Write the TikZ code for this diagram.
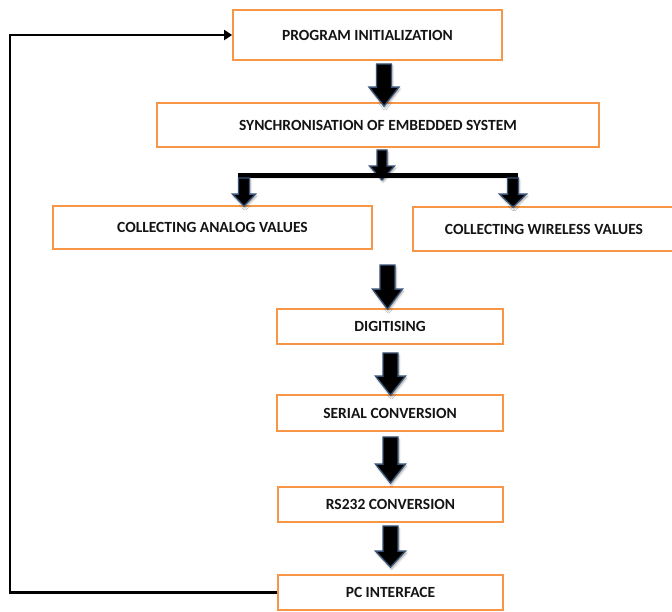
\documentclass[tikz,border=0pt]{standalone}
\usepackage{fontspec}
\setmainfont{Carlito}
\usetikzlibrary{calc,arrows.meta,shadows.blur}
\definecolor{boxorange}{HTML}{F79646}
\definecolor{arrowedge}{HTML}{3A5477}
\tikzset{
  stepbox/.style={draw=boxorange, line width=1.8pt, fill=white, rectangle, inner sep=0pt,
    font=\fontsize{15.5}{18}\selectfont\bfseries, text=black!92},
  blockarrow/.style={fill=black, draw=arrowedge, line width=1.3pt, line join=miter,
    blur shadow={shadow xshift=1pt, shadow yshift=-2pt, shadow opacity=35, shadow blur steps=4}},
  feedback/.style={draw=black, line width=2.8pt, line join=miter, -{Triangle[length=8pt,width=10pt]}},
  barline/.style={draw=black, line width=5pt}
}
% #1 x, #2 start coordinate, #3 tip coordinate, #4 shaft half width, #5 head half width, #6 head length
\newcommand\blockarr[6]{%
  \path[blockarrow] let \p1=(#2), \p2=(#3) in
    ({#1pt-#4pt},\y1) -- ({#1pt+#4pt},\y1) -- ({#1pt+#4pt},{\y2+#6pt}) -- ({#1pt+#5pt},{\y2+#6pt})
    -- (#1pt,\y2) -- ({#1pt-#5pt},{\y2+#6pt}) -- ({#1pt-#4pt},{\y2+#6pt}) -- cycle;}
\begin{document}
\begin{tikzpicture}[x=1pt,y=-1pt]
\useasboundingbox (0,0) rectangle (672,611);
% boxes
\node[stepbox, minimum width=269pt, minimum height=50pt] (prog) at (367.5,35) {PROGRAM INITIALIZATION};
\node[stepbox, minimum width=442pt, minimum height=44pt] (sync) at (378,125) {SYNCHRONISATION OF EMBEDDED SYSTEM};
\node[stepbox, minimum width=319pt, minimum height=43pt] (analog) at (212.5,227.5) {COLLECTING ANALOG VALUES};
\node[stepbox, minimum width=262pt, minimum height=44pt] (wireless) at (544,229) {COLLECTING WIRELESS VALUES};
\node[stepbox, minimum width=226pt, minimum height=35pt] (digit) at (390,326.5) {DIGITISING};
\node[stepbox, minimum width=226pt, minimum height=36pt] (serial) at (390,413) {SERIAL CONVERSION};
\node[stepbox, minimum width=225pt, minimum height=35pt] (rs) at (390.5,504.5) {RS232 CONVERSION};
\node[stepbox, minimum width=225pt, minimum height=35pt] (pc) at (390.5,592.5) {PC INTERFACE};
% branch bar
\coordinate (barL) at (238,175.5);
\coordinate (barR) at (518,175.5);
\coordinate (barM) at (382,180);
\coordinate (barLs) at (243.5,178);
\coordinate (barRs) at (512.5,178);
\coordinate (split) at (387.5,265);
% block arrows
\blockarr{384}{$(prog.south)+(0,3)$}{$(sync.north)+(0,4)$}{7.5}{15}{19}
\blockarr{382}{$(sync.south)+(0,2)$}{barM}{5}{12.5}{14}
\draw[barline, blur shadow={shadow xshift=1pt, shadow yshift=-2pt, shadow opacity=30, shadow blur steps=4}] (barL) -- (barR);
\blockarr{244}{barLs}{$(analog.north)+(0,1)$}{5.5}{11.5}{12}
\blockarr{513}{barRs}{$(wireless.north)+(0,1)$}{5.5}{13.5}{13}
\blockarr{387.5}{split}{$(digit.north)+(0,1)$}{7.5}{15}{20}
\blockarr{390.5}{$(digit.south)+(0,8)$}{$(serial.north)+(0,1)$}{7.5}{15}{19}
\blockarr{390.5}{$(serial.south)+(0,5)$}{$(rs.north)+(0,-3)$}{7.5}{15}{19}
\blockarr{390.5}{$(rs.south)+(0,3)$}{$(pc.north)+(0,-7)$}{7.5}{15}{16}
% feedback loop
\coordinate (fbc) at (10,592.5);
\draw[feedback] (pc.west) -- (fbc) |- (prog.west);
\end{tikzpicture}
\end{document}
